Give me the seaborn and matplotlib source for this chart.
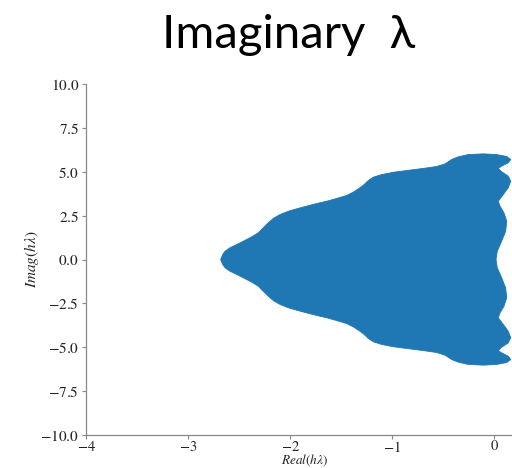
import numpy as np
import matplotlib
matplotlib.use("Agg")
import matplotlib.pyplot as plt
import seaborn as sns

# Upper half of the stability boundary in the complex h*lambda plane,
# traced from the negative real tip round to the positive real axis.
re_upper = [-2.680, -2.660, -2.637, -2.588, -2.523, -2.458, -2.376, -2.311,
            -2.262, -2.213, -2.164, -2.098, -2.017, -1.934, -1.837, -1.738,
            -1.640, -1.542, -1.444, -1.379, -1.314, -1.281, -1.232, -1.183,
            -1.101, -0.987, -0.856, -0.693, -0.562, -0.480, -0.415, -0.350,
            -0.252, -0.105, 0.026, 0.125, 0.164, 0.140, 0.075, 0.042,
            0.075, 0.140, 0.164, 0.140, 0.091, 0.042, 0.059, 0.098,
            0.125, 0.114, 0.075, 0.032, 0.020]
im_upper = [0.00, 0.28, 0.47, 0.67, 0.85, 1.04, 1.29, 1.52,
            1.81, 2.09, 2.34, 2.56, 2.75, 2.89, 3.04, 3.19,
            3.32, 3.48, 3.65, 3.84, 4.09, 4.23, 4.50, 4.69,
            4.84, 4.97, 5.07, 5.19, 5.30, 5.45, 5.70, 5.85,
            5.98, 6.02, 5.98, 5.87, 5.70, 5.51, 5.32, 5.19,
            5.00, 4.75, 4.46, 4.09, 3.70, 3.32, 3.04, 2.66,
            2.18, 1.61, 1.04, 0.47, 0.00]

x_ticks = [-4, -3, -2, -1, 0]
y_ticks = [-10.0, -7.5, -5.0, -2.5, 0.0, 2.5, 5.0, 7.5, 10.0]

sns.set_style("ticks")
plt.rcParams["font.family"] = ["STIXGeneral", "DejaVu Serif"]
plt.rcParams["mathtext.fontset"] = "stix"

fig = plt.figure(figsize=(5.12, 4.68), dpi=100)
ax = fig.add_axes([86 / 512, 33 / 468, 426 / 512, 351 / 468])

# The region is symmetric about the real axis: close the outline with the
# mirrored lower half.
re_closed = list(re_upper) + list(re_upper[::-1])
im_closed = list(im_upper) + [-v for v in im_upper[::-1]]
ax.fill(re_closed, im_closed, color="#1f77b4", linewidth=0.6,
        edgecolor="#1f77b4", antialiased=True, joinstyle="round")

ax.set_xlim(-4, -4 + 426 / 102)
ax.set_ylim(-10, 10)
ax.set_xticks(x_ticks)
ax.set_yticks(y_ticks)
ax.set_xticklabels([f"${v}$" if v != 0 else "0" for v in x_ticks])
ax.set_yticklabels([f"${v:.1f}$" for v in y_ticks])
ax.tick_params(axis="both", labelsize=11, length=3, width=0.8,
               color="#888888", labelcolor="#222222", pad=2)
ax.tick_params(axis="x", labelsize=10.5, pad=0.5)

ax.set_xlabel(r"$Real(h\lambda)$", fontsize=9.5, color="#222222")
ax.set_ylabel(r"$Imag(h\lambda)$", fontsize=11, color="#222222")
ax.xaxis.set_label_coords((305 - 86) / 426, -0.050)
ax.yaxis.set_label_coords(-0.106, 0.5)

sns.despine(ax=ax)
for side in ("left", "bottom"):
    ax.spines[side].set_color("#888888")
    ax.spines[side].set_linewidth(0.9)

fig.text(289 / 512, 1 - 48 / 468, "Imaginary  λ", ha="center", va="baseline",
         fontsize=34, family=["Lato", "DejaVu Sans"], color="black")

fig.savefig("out.png", dpi=100)
